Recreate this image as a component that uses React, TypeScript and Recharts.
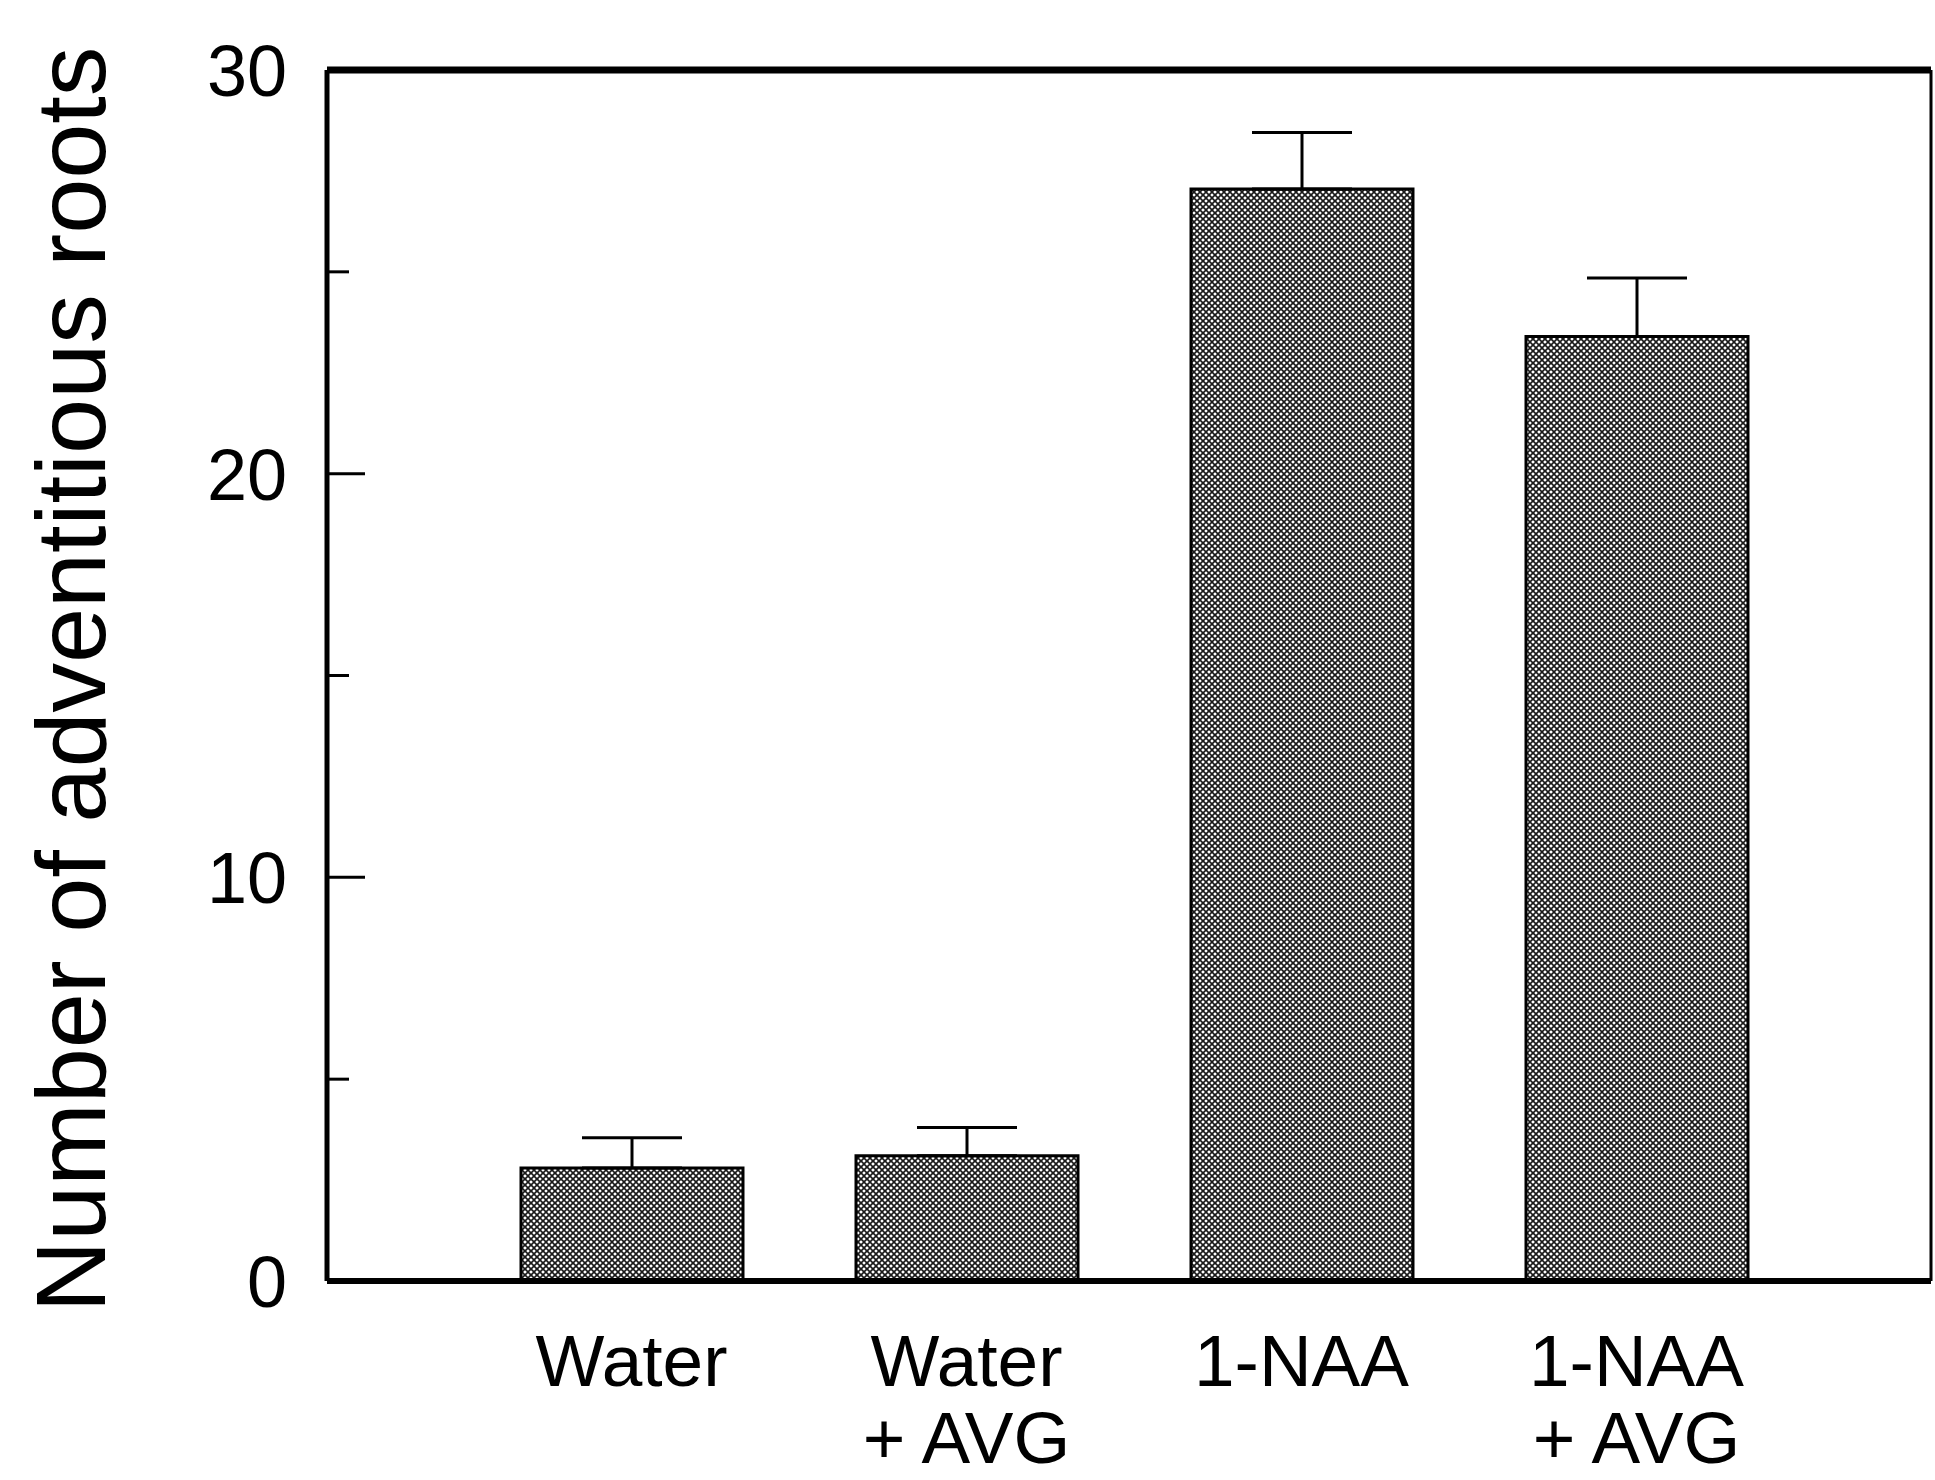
import React from 'react';
import { BarChart, Bar, XAxis, YAxis, ErrorBar, ReferenceLine } from 'recharts';

const categories = ['Water', 'Water\n+ AVG', '1-NAA', '1-NAA\n+ AVG'];
const rootCounts = [2.8, 3.1, 27.05, 23.4];
const rootErrors = [0.75, 0.7, 1.4, 1.45];
const yTicks = [0, 5, 10, 15, 20, 25, 30];

const FONT = '"Liberation Sans", Arial, Helvetica, sans-serif';

const data = categories.map((name, i) => ({
  name,
  value: rootCounts[i],
  err: [0, rootErrors[i]],
}));

const LeftTick = ({ x, y, payload }: any) => {
  const major = payload.value % 10 === 0;
  return (
    <g>
      <line x1={x} x2={x + (major ? 38 : 22)} y1={y} y2={y} stroke="#000" strokeWidth={3} />
      {major && (
        <text x={x - 40} y={y + 26} textAnchor="end" fontSize={72} fontFamily={FONT} fill="#000">
          {payload.value}
        </text>
      )}
    </g>
  );
};

const RightTick = ({ x, y, payload }: any) => {
  const major = payload.value % 10 === 0;
  return <line x1={x} x2={x - (major ? 38 : 18)} y1={y} y2={y} stroke="#000" strokeWidth={3} />;
};

const CategoryTick = ({ x, y, payload }: any) => {
  const lines = String(payload.value).split('\n');
  return (
    <g>
      {lines.map((line, i) => (
        <text
          key={i}
          x={x}
          y={y + 105 + i * 77}
          textAnchor="middle"
          fontSize={73}
          fontFamily={FONT}
          fill="#000"
        >
          {line}
        </text>
      ))}
    </g>
  );
};

const YLabel = ({ viewBox }: any) => {
  const cx = viewBox.x + 105;
  const cy = viewBox.y + viewBox.height / 2 + 4;
  return (
    <text
      x={cx}
      y={cy}
      transform={`rotate(-90, ${cx}, ${cy})`}
      textAnchor="middle"
      fontSize={99}
      fontFamily={FONT}
      fill="#000"
    >
      Number of adventitious roots
    </text>
  );
};

export default function App() {
  return (
    <div style={{ position: 'absolute', left: 0, top: 0, background: '#fff' }}>
      <BarChart
        width={1935}
        height={1480}
        data={data}
        margin={{ top: 70, right: 0, bottom: 0, left: 0 }}
      >
        <defs>
          <pattern id="halftone" patternUnits="userSpaceOnUse" width={6} height={6}>
            <rect width={6} height={6} fill="#fff" />
            <path d="M-1,5 l2,2 M0,0 l6,6 M5,-1 l2,2" stroke="#1a1a1a" strokeWidth={1.6} />
            <path d="M-1,1 l2,-2 M0,6 l6,-6 M5,7 l2,-2" stroke="#1a1a1a" strokeWidth={1.6} />
          </pattern>
        </defs>
        <XAxis
          dataKey="name"
          height={199}
          padding={{ left: 137, right: 127 }}
          axisLine={{ stroke: '#000', strokeWidth: 6 }}
          tickLine={false}
          tickSize={0}
          tickMargin={0}
          tick={<CategoryTick />}
          interval={0}
        />
        <YAxis
          type="number"
          domain={[0, 30]}
          ticks={yTicks}
          width={327}
          axisLine={{ stroke: '#000', strokeWidth: 5 }}
          tickLine={false}
          tickSize={0}
          tickMargin={0}
          tick={<LeftTick />}
          interval={0}
          label={<YLabel />}
        />
        <YAxis
          yAxisId="right"
          orientation="right"
          type="number"
          domain={[0, 30]}
          ticks={yTicks}
          width={4}
          axisLine={{ stroke: '#000', strokeWidth: 3 }}
          tickLine={false}
          tickSize={0}
          tickMargin={0}
          tick={<RightTick />}
          interval={0}
        />
        <ReferenceLine y={30} stroke="#000" strokeWidth={7} />
        <Bar
          dataKey="value"
          barSize={222}
          fill="url(#halftone)"
          stroke="#000"
          strokeWidth={3}
          isAnimationActive={false}
        >
          <ErrorBar
            dataKey="err"
            direction="y"
            width={50}
            stroke="#000"
            strokeWidth={3}
            isAnimationActive={false}
          />
        </Bar>
      </BarChart>
    </div>
  );
}
